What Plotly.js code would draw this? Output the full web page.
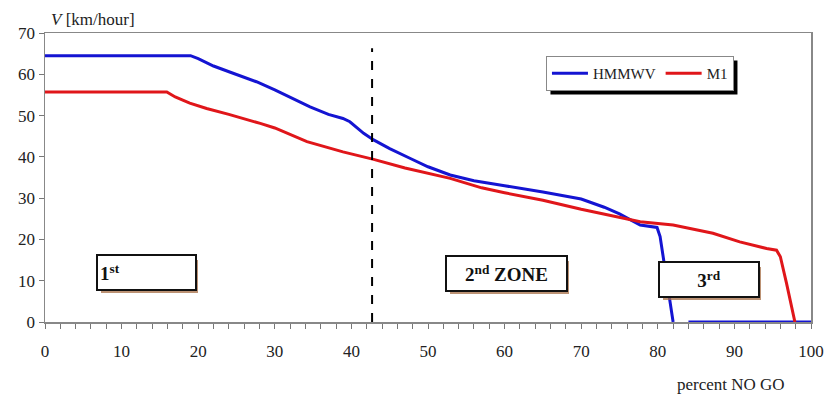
<!DOCTYPE html>
<html>
<head>
<meta charset="utf-8">
<script src="https://cdn.plot.ly/plotly-3.0.1.min.js"></script>
<style>html,body{margin:0;padding:0;background:#fff;}#chart{width:827px;height:394px;}
#chart svg text{font-family:"Times New Roman","Liberation Serif",serif !important;}</style>
</head>
<body>
<div id="chart"></div>
<script>
// Data
const hmmwvX = [0, 19, 20, 22, 24.2, 27.6, 30, 34.6, 37, 38.9, 39.8, 41.6, 42.9, 45, 47.7, 50, 52.9, 56, 60, 65, 70, 73, 75, 77.7, 79.9, 80.3, 80.9, 82, null, 84, 100];
const hmmwvY = [64.5, 64.5, 63.8, 62, 60.5, 58.2, 56.2, 52.1, 50.3, 49.3, 48.5, 45.7, 44.1, 42, 39.6, 37.6, 35.6, 34.2, 33, 31.5, 29.8, 27.8, 26.2, 23.5, 22.9, 20.7, 13.4, 0, null, 0, 0];
const m1X = [0, 15.9, 17, 18.9, 21.1, 24, 28.1, 30, 34.2, 38.9, 42.9, 47, 52.9, 57, 60, 65, 70, 75, 77.7, 82, 84.2, 87.2, 90.7, 94.2, 95.5, 96, 96.8, 97.9];
const m1Y = [55.7, 55.7, 54.5, 53, 51.7, 50.3, 48.1, 47, 43.7, 41.2, 39.4, 37.3, 34.8, 32.5, 31.3, 29.5, 27.3, 25.3, 24.3, 23.5, 22.7, 21.5, 19.4, 17.8, 17.4, 15.8, 9.4, 0];
const seriesNames = ["HMMWV", "M1"];
const zoneBoundaryX = [42.7, 42.7];
const zoneBoundaryY = [0, 66.3];
const zoneLabels = ["1<sup>st</sup>", "2<sup>nd</sup> ZONE", "3<sup>rd</sup>"];
const zoneLabelX = [13.3, 60.3, 86.7];
const zoneLabelY = [12, 11.7, 10.3];
const xTicks = [0, 10, 20, 30, 40, 50, 60, 70, 80, 90, 100];
const yTicks = [0, 10, 20, 30, 40, 50, 60, 70];

const serif = "Times New Roman";
const traces = [
  {x: hmmwvX, y: hmmwvY, name: seriesNames[0], mode: "lines", line: {color: "#1414d2", width: 3}},
  {x: m1X, y: m1Y, name: seriesNames[1], mode: "lines", line: {color: "#e0161a", width: 3}},
  {x: zoneBoundaryX, y: zoneBoundaryY, mode: "lines", showlegend: false, hoverinfo: "skip",
   line: {color: "#000", width: 2, dash: "dash"}}
];

const boxW = [93, 115, 94];
const annotations = [];
zoneLabels.forEach((t, i) => {
  annotations.push({x: zoneLabelX[i], y: zoneLabelY[i], xref: "x", yref: "y", text: "&nbsp;", showarrow: false,
    xshift: 3, yshift: -4, width: boxW[i], height: 29, bgcolor: "rgba(165,110,70,0.75)", borderwidth: 0, borderpad: 2});
});
zoneLabels.forEach((t, i) => {
  annotations.push({x: zoneLabelX[i], y: zoneLabelY[i], xref: "x", yref: "y", text: "<b>" + t + "</b>",
    showarrow: false, width: boxW[i], height: 29, align: i === 0 ? "left" : "center",
    bgcolor: "#fff", bordercolor: "#111", borderwidth: 2, borderpad: 2,
    font: {family: serif, size: 19, color: "#111"}});
});
annotations.push({xref: "paper", yref: "paper", x: 0, y: 1, xshift: 4, yshift: 2, xanchor: "left", yanchor: "bottom",
  text: "<i>V</i> [km/hour]", showarrow: false, font: {family: serif, size: 17, color: "#222"}});
annotations.push({xref: "paper", yref: "paper", x: 0.895, y: 0, yshift: -62, xanchor: "center", yanchor: "middle",
  text: "percent NO GO", showarrow: false, font: {family: serif, size: 17, color: "#222"}});

const layout = {
  width: 827, height: 394,
  margin: {l: 45, r: 16, t: 33, b: 72},
  paper_bgcolor: "#fff", plot_bgcolor: "#fff",
  font: {family: serif, size: 17, color: "#222"},
  xaxis: {range: [0, 100], tickvals: xTicks, ticks: "outside", ticklen: 5, tickcolor: "#777",
    showline: true, linecolor: "#888", linewidth: 1.5, mirror: true, showgrid: false, zeroline: false,
    minor: {dtick: 2, ticks: "outside", ticklen: 5, tickcolor: "#777"}, ticklabelstandoff: 8},
  yaxis: {range: [0, 70], tickvals: yTicks, ticks: "outside", ticklen: 5, tickcolor: "#777",
    showline: true, linecolor: "#888", linewidth: 1.5, mirror: true, showgrid: false, zeroline: false},
  legend: {orientation: "h", x: 0.654, y: 0.92, xanchor: "left", yanchor: "top",
    bgcolor: "#fff", bordercolor: "#888", borderwidth: 1, font: {family: serif, size: 15, color: "#222"},
    itemwidth: 36, tracegroupgap: 0},
  shapes: [{type: "rect", xref: "paper", yref: "paper", x0: 0.658, x1: 0.8995, y0: 0.796, y1: 0.91,
    fillcolor: "#000", line: {width: 0}, layer: "above"}],
  annotations: annotations,
  showlegend: true
};
Plotly.newPlot("chart", traces, layout, {staticPlot: true}).then(gd => {
  // place the legend's drop shadow under the drawn legend box
  const bg = gd.querySelector(".legend .bg");
  if (!bg) return;
  const r = bg.getBoundingClientRect();
  const c = gd.getBoundingClientRect();
  const fl = gd._fullLayout, s = fl._size;
  const px = v => (v - c.left - s.l) / s.w;
  const py = v => 1 - (v - c.top - s.t) / s.h;
  return Plotly.relayout(gd, {
    "shapes[0].x0": px(r.left + 4), "shapes[0].x1": px(r.right + 4),
    "shapes[0].y0": py(r.bottom + 4), "shapes[0].y1": py(r.top + 4)
  });
});
</script>
</body>
</html>
